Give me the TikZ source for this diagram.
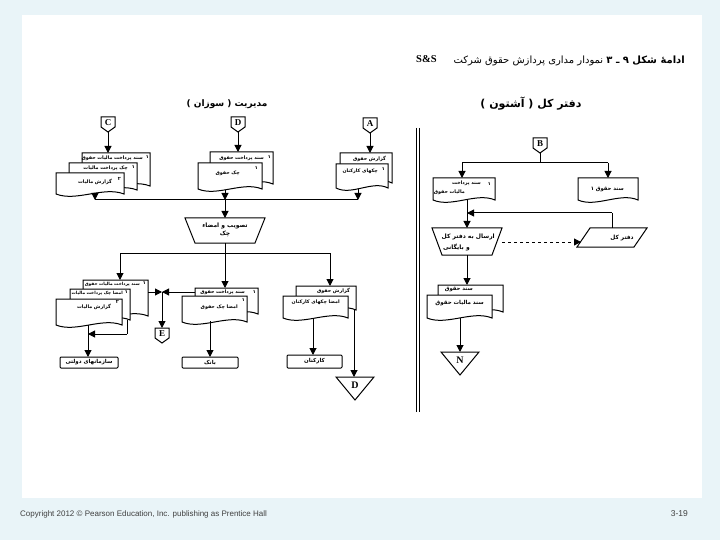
\documentclass[tikz,border=0pt]{standalone}
\usepackage{fontspec}
\usetikzlibrary{arrows.meta}
\TeXXeTstate=1
\newfontfamily\fa[Script=Arabic]{DejaVu Sans}
\newfontfamily\lat{Liberation Serif}
\newfontfamily\foot{Liberation Sans}
\definecolor{slidebg}{HTML}{E9F4F8}
\definecolor{foottext}{HTML}{404040}
\tikzset{
 ln/.style={line width=1pt},
 arr/.style={ln,-{Triangle[length=7pt,width=7pt]}},
 docbox/.style={ln,fill=white},
 fat/.style={font=\fa\bfseries\fontsize{4.8}{5.5}\selectfont,inner sep=0pt},
 fatL/.style={font=\fa\bfseries\fontsize{6}{7.5}\selectfont,inner sep=0pt},
 fatS/.style={font=\fa\bfseries\fontsize{4.3}{5}\selectfont,inner sep=0pt},
 conn/.style={font=\lat\bfseries\fontsize{9}{9}\selectfont,inner sep=0pt},
 termbox/.style={ln,fill=white,rounded corners=1pt},
}
\newcommand\DocAt[5]{%
 \filldraw[docbox] (#2,#3) -- (#4,#3) -- (#4,#5) .. controls ({#4-0.3*(#4-#2)},{#5-8}) and ({#2+0.3*(#4-#2)},{#5+8}) .. (#2,#5) -- cycle;
 \coordinate (#1-nw) at (#2,#3); \coordinate (#1-ne) at (#4,#3);
 \coordinate (#1-sw) at (#2,#5); \coordinate (#1-se) at (#4,#5);}
\newcommand\OffPage[4]{%
 \filldraw[ln,fill=white] ({#2-7},#3) -- ({#2+7},#3) -- ({#2+7},{#3+10}) -- (#2,{#3+15}) -- ({#2-7},{#3+10}) -- cycle;
 \node[conn] (#1) at (#2,{#3+6}) {#4};
 \coordinate (#1-s) at (#2,{#3+15});}
\newcommand\TriConn[4]{%
 \filldraw[ln,fill=white] ({#2-19},#3) -- ({#2+19},#3) -- (#2,{#3+23}) -- cycle;
 \node[conn,font=\lat\bfseries\fontsize{10}{10}\selectfont] (#1) at (#2,{#3+8}) {#4};
 \coordinate (#1-n) at (#2,#3);}
\newcommand\FaTxt[4]{\node[fat,anchor=east] (#1) at (#2,#3) {#4};}
\begin{document}
\begin{tikzpicture}[x=1pt,y=-1pt]
\useasboundingbox (0,0) rectangle (720,540);
\fill[slidebg] (0,0) rectangle (720,540);
\fill[white] (22,15) rectangle (702,498);
% footer
\node[font=\foot\fontsize{8}{9}\selectfont,text=foottext,anchor=base west,inner sep=0pt] (copy) at (20,516) {Copyright 2012 © Pearson Education, Inc. publishing as Prentice Hall};
\node[font=\foot\fontsize{8.5}{9}\selectfont,text=foottext,anchor=base east,inner sep=0pt] (pg) at (688,516) {3-19};
% title
\node[font=\lat\bfseries\fontsize{10.5}{11}\selectfont,anchor=west,inner sep=0pt] (ss) at (416,59) {S\&S};
\node[font=\fa\fontsize{10}{11}\selectfont,anchor=east,inner sep=0pt] (ttl) at (685,61) {\beginR{\bfseries ادامهٔ شکل ۹ ـ ۳} نمودار مداری پردازش حقوق شرکت\endR};
\node[font=\fa\bfseries\fontsize{11}{13}\selectfont,inner sep=0pt] (hr) at (531,104) {\beginR دفتر کل ( آشتون )\endR};
\node[font=\fa\bfseries\fontsize{9}{12}\selectfont,inner sep=0pt] (hl) at (227,104) {\beginR مدیریت ( سوزان )\endR};
% separator
\draw[ln] (416,128) -- (416,412);
\draw[ln] (419,128) -- (419,412);
% ---------- upper left (C)
\OffPage{C}{108}{117}{C}
\DocAt{ua1}{82}{153}{150}{186}
\DocAt{ua2}{69}{163}{137}{190}
\DocAt{ua3}{56}{173}{124}{194}
\FaTxt{tua1}{143}{158}{\beginR سند پرداخت مالیات حقوق\endR}
\FaTxt{dua1}{149}{157}{۱}
\FaTxt{tua2}{128}{168}{\beginR چک پرداخت مالیات\endR}
\FaTxt{dua2}{135}{167}{۱}
\FaTxt{tua3}{112}{182}{\beginR گزارش مالیات\endR}
\FaTxt{dua3}{121}{179}{۲}
\draw[arr] (C-s) -- (C-s |- ua1-nw);
% ---------- upper middle (D)
\OffPage{Dt}{238}{117}{D}
\DocAt{ub1}{210}{152}{273}{184}
\DocAt{ub2}{198}{163}{262}{189}
\FaTxt{tub1}{264}{158}{\beginR سند پرداخت حقوق\endR}
\FaTxt{dub1}{271}{157}{۱}
\FaTxt{tub2}{240}{173}{\beginR چک حقوق\endR}
\FaTxt{dub2}{258}{168}{۱}
\draw[arr] (Dt-s) -- (Dt-s |- ub1-nw);
% ---------- upper right (A)
\OffPage{A}{370}{118}{A}
\DocAt{uc1}{340}{153}{392}{183}
\DocAt{uc2}{336}{164}{388}{188}
\FaTxt{tuc1}{386}{159}{\beginR گزارش حقوق\endR}
\FaTxt{tuc2}{378}{171}{\beginR چکهای کارکنان\endR}
\FaTxt{duc2}{385}{169}{۱}
\draw[arr] (A-s) -- (A-s |- uc1-nw);
% merge
\coordinate (mL) at (95,200); \coordinate (mM) at (225,200); \coordinate (mR) at (358,200);
\draw[ln] (mL) -- (mR);
\draw[arr] (95,195) -- (mL);
\draw[arr] (225,190) -- (mM);
\draw[arr] (358,189) -- (mR);
% approve trapezoid
\filldraw[ln,fill=white] (185,218) -- (265,218) -- (255,243) -- (195,243) -- cycle;
\node[fatL,align=center] (appr) at (225,230) {\beginR تصویب و امضاء\endR\\[1pt]\beginR چک\endR};
\coordinate (apT) at (225,218); \coordinate (apB) at (225,243);
\draw[arr] (mM) -- (apT);
\coordinate (sL) at (120,253); \coordinate (sM) at (225,253); \coordinate (sR) at (330,253);
\draw[ln] (apB) -- (sM);
\draw[ln] (sL) -- (sR);
% ---------- lower left
\DocAt{la1}{83}{280}{148}{316}
\DocAt{la2}{70}{289}{130}{320}
\DocAt{la3}{56}{299}{122}{325}
\node[fatS,anchor=east] (tla1) at (140,284) {\beginR سند پرداخت مالیات حقوق\endR};
\FaTxt{dla1}{146}{283}{۱}
\node[fatS,anchor=east] (tla2) at (123,293) {\beginR امضا چک پرداخت مالیات\endR};
\FaTxt{dla2}{128}{292}{۱}
\FaTxt{tla3}{111}{307}{\beginR گزارش مالیات\endR}
\FaTxt{dla3}{119}{302}{۲}
\draw[arr] (sL) -- (sL |- la1-nw);
% ---------- lower middle
\DocAt{lb1}{195}{288}{258}{314}
\DocAt{lb2}{182}{296}{247}{322}
\FaTxt{tlb1}{245}{292}{\beginR سند پرداخت حقوق\endR}
\FaTxt{dlb1}{256}{292}{۱}
\FaTxt{tlb2}{238}{307}{\beginR امضا چک حقوق\endR}
\FaTxt{dlb2}{245}{300}{۱}
\draw[arr] (sM) -- (sM |- lb1-nw);
% ---------- lower right
\DocAt{lc1}{296}{286}{356}{310}
\DocAt{lc2}{283}{296}{348}{318}
\FaTxt{tlc1}{350}{291}{\beginR گزارش حقوق\endR}
\FaTxt{tlc2}{340}{302}{\beginR امضا چکهای کارکنان\endR}
\draw[arr] (sR) -- (sR |- lc1-nw);
% E junction
\coordinate (jE) at (162,292);
\draw[arr] (148,292) -- (jE);
\draw[arr] (195,292) -- (jE);
\OffPage{E}{162}{328}{E}
\draw[arr] (jE) -- (162,328);
% terminal boxes
\draw[termbox] (60,357) rectangle (118,368);
\node[fat,font=\fa\bfseries\fontsize{5.5}{6}\selectfont] (gov) at (89,362.5) {\beginR سازمانهای دولتی\endR};
\draw[termbox] (182,357) rectangle (238,368);
\node[fat,font=\fa\bfseries\fontsize{5.5}{6}\selectfont] (bank) at (210,362.5) {\beginR بانک\endR};
\draw[termbox] (287,355) rectangle (342,368);
\node[fat,font=\fa\bfseries\fontsize{5.5}{6}\selectfont] (emp) at (314.5,361.5) {\beginR کارکنان\endR};
\draw[arr] (88,325) -- (88,357);
\draw[ln] (127,320) -- (127,334);
\draw[arr] (127,334) -- (88,334);
\draw[arr] (210,321) -- (210,357);
\draw[arr] (313,318) -- (313,355);
\TriConn{D2}{355}{377}{D}
\draw[arr] (354,310) -- (D2-n -| 354,0);
% ---------- right side
\OffPage{B}{540}{138}{B}
\coordinate (bL) at (462,163); \coordinate (bM) at (540,163); \coordinate (bR) at (608,163);
\draw[ln] (B-s) -- (bM);
\draw[ln] (bL) -- (bR);
\DocAt{ra}{433}{178}{495}{200}
\DocAt{rb}{578}{178}{638}{200}
\draw[arr] (bL) -- (bL |- ra-nw);
\draw[arr] (bR) -- (bR |- rb-nw);
\FaTxt{tra1}{481}{183}{\beginR سند پرداخت\endR}
\FaTxt{dra1}{491}{184}{۱}
\FaTxt{tra2}{465}{192}{\beginR مالیات حقوق\endR}
\node[fat,font=\fa\bfseries\fontsize{5.3}{6}\selectfont,anchor=east] (trb) at (624,189) {\beginR سند حقوق ۱\endR};
% trapezoid send
\filldraw[ln,fill=white] (432,228) -- (502,228) -- (492,255) -- (442,255) -- cycle;
\node[fatL,anchor=east] (tsend1) at (495,237) {\beginR ارسال به دفتر کل\endR};
\node[fatL,anchor=east] (tsend2) at (470,248) {\beginR و بایگانی\endR};
\draw[arr] (467,200) -- (467,228);
% ledger parallelogram
\filldraw[ln,fill=white] (590,228) -- (647,228) -- (634,247) -- (577,247) -- cycle;
\node[fat,font=\fa\bfseries\fontsize{5.8}{6}\selectfont] (ledger) at (622,238) {\beginR دفتر کل\endR};
\draw[ln] (612,228) -- (612,213);
\draw[arr] (612,213) -- (467,213);
\draw[ln,dashed,-{Triangle[length=7pt,width=7pt]}] (502,242) -- (581,242);
% lower right docs
\draw[arr] (467,255) -- (467,285);
\DocAt{rc1}{438}{285}{503}{312}
\DocAt{rc2}{427}{295}{492}{318}
\node[fat,font=\fa\bfseries\fontsize{5.3}{6}\selectfont,anchor=east] (trc1) at (473,289) {\beginR سند حقوق\endR};
\node[fat,font=\fa\bfseries\fontsize{5.5}{6}\selectfont,anchor=east] (trc2) at (484,303) {\beginR سند مالیات حقوق\endR};
\TriConn{N}{460}{352}{N}
\draw[arr] (460,318) -- (N-n);
\end{tikzpicture}
\end{document}
